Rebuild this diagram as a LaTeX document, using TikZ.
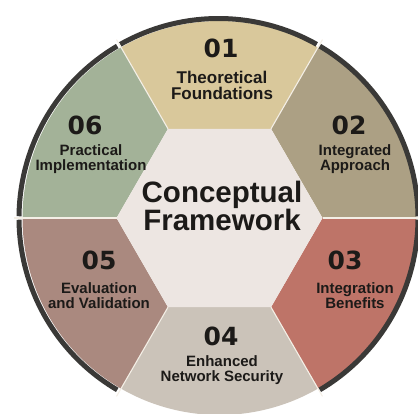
\documentclass[tikz,border=0pt]{standalone}
\usepackage{fontspec}
\setmainfont{Liberation Sans}
\newfontfamily\numfont{DejaVu Sans}
\usepackage{tikz}

\definecolor{theoryCol}{HTML}{D9C89B}
\definecolor{approachCol}{HTML}{ACA084}
\definecolor{benefitCol}{HTML}{BE7468}
\definecolor{securityCol}{HTML}{CBC3B9}
\definecolor{evalCol}{HTML}{AA897F}
\definecolor{practiceCol}{HTML}{A3B298}
\definecolor{hubCol}{HTML}{EDE6E2}
\definecolor{inkCol}{HTML}{1C1A18}
\definecolor{rimCol}{HTML}{3A3937}
\definecolor{seamCol}{HTML}{F4EFE6}

\begin{document}
\begin{tikzpicture}[x=1pt,y=1pt,
    rim/.style={draw=rimCol, line width=5pt},
    seam/.style={draw=seamCol, line width=1.1pt},
    num/.style={font=\numfont\bfseries\fontsize{25}{25}\selectfont, text=inkCol, inner sep=0pt},
    lbl/.style={font=\bfseries\fontsize{15}{15}\selectfont, align=center, text=inkCol, inner sep=0pt},
    head/.style={font=\bfseries\fontsize{29.5}{28}\selectfont, align=center, text=inkCol, inner sep=0pt}]
  \useasboundingbox (0,0) rectangle (418,414);
  \clip (0,0) rectangle (418,414);
  \begin{scope}[shift={(219.5,196)}]
  % ---------- ring segments ----------
  \fill[theoryCol]   (60:103)  -- (60:197)  arc[start angle=60,  end angle=120, radius=197] -- (120:103) -- cycle;
  \fill[approachCol] (0:103)   -- (0:197)   arc[start angle=0,   end angle=60,  radius=197] -- (60:103)  -- cycle;
  \fill[benefitCol]  (-60:103) -- (-60:197) arc[start angle=-60, end angle=0,   radius=197] -- (0:103)   -- cycle;
  \fill[securityCol] (240:103) -- (240:197) arc[start angle=240, end angle=300, radius=197] -- (300:103) -- cycle;
  \fill[evalCol]     (180:103) -- (180:197) arc[start angle=180, end angle=240, radius=197] -- (240:103) -- cycle;
  \fill[practiceCol] (120:103) -- (120:197) arc[start angle=120, end angle=180, radius=197] -- (180:103) -- cycle;
  % ---------- hub ----------
  \fill[hubCol] (0:103) -- (60:103) -- (120:103) -- (180:103) -- (240:103) -- (300:103) -- cycle;
  % ---------- outer rim ----------
  \begin{scope}[xshift=-1pt]
    \draw[rim] (60.5:199.5)  arc[start angle=60.5,  end angle=119.5, radius=199.5];
    \draw[rim] (0.5:199.5)   arc[start angle=0.5,   end angle=59.5,  radius=199.5];
    \draw[rim] (-59.5:199.5) arc[start angle=-59.5, end angle=-0.5,  radius=199.5];
    \draw[rim] (180.5:199.5) arc[start angle=180.5, end angle=239.5, radius=199.5];
    \draw[rim] (120.5:199.5) arc[start angle=120.5, end angle=179.5, radius=199.5];
  \end{scope}
  % ---------- seams ----------
  \foreach \a in {0,60,...,300}
    \draw[seam] (\a:103) -- (\a:206);
  % ---------- texts ----------
  \node[head] (title) at (2.5,12) {Conceptual\\Framework};
  \node[num] (n01) at (1.5,170)   {01};
  \node[lbl, font=\bfseries\fontsize{17}{16}\selectfont] (t01) at (2.5,133) {Theoretical\\Foundations};
  \node[num] (n02) at (129.5,93)  {02};
  \node[lbl] (t02) at (135.5,59)  {Integrated\\Approach};
  \node[num] (n03) at (125.5,-42) {03};
  \node[lbl] (t03) at (135.5,-78) {Integration\\Benefits};
  \node[num] (n04) at (1.5,-118)  {04};
  \node[lbl] (t04) at (2.5,-152)  {Enhanced\\Network Security};
  \node[num] (n05) at (-120.5,-42) {05};
  \node[lbl] (t05) at (-120.5,-78) {Evaluation\\and Validation};
  \node[num] (n06) at (-134.5,93) {06};
  \node[lbl] (t06) at (-128.5,59) {Practical\\Implementation};
  \end{scope}
\end{tikzpicture}
\end{document}
